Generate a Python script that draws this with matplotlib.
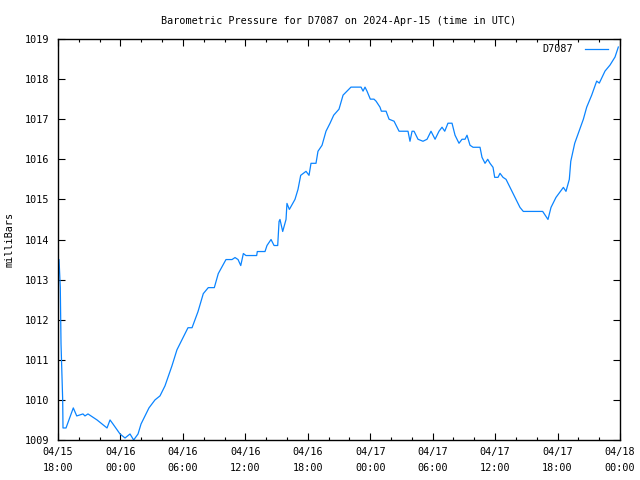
import matplotlib
matplotlib.use("Agg")
import matplotlib.pyplot as plt
from matplotlib.ticker import MultipleLocator, FixedLocator

# hours since 2024-04-15 18:00 UTC
hours = [0.0, 0.1, 0.22, 0.29, 0.45, 0.48, 0.77, 1.47, 1.80, 2.40, 2.59, 2.88,
         3.17, 3.75, 4.71, 5.00, 5.28, 5.96, 6.44, 6.92, 7.27, 7.69, 7.98, 8.74,
         9.32, 9.80, 10.28, 10.95, 11.43, 12.49, 12.88, 13.45, 13.96, 14.44, 15.02,
         15.40, 16.14, 16.72, 17.01, 17.30, 17.56, 17.81, 18.06, 19.09, 19.15,
         19.89, 20.08, 20.47, 20.76, 21.11, 21.24, 21.33, 21.59, 21.91, 22.00,
         22.23, 22.77, 23.06, 23.32, 23.83, 24.12, 24.31, 24.79, 24.98, 25.37,
         25.75, 26.14, 26.49, 27.00, 27.39, 27.77, 28.15, 29.12, 29.31, 29.50,
         29.69, 30.01, 30.36, 30.56, 30.94, 31.07, 31.52, 31.81, 32.29, 32.77,
         33.63, 33.82, 34.02, 34.21, 34.59, 35.07, 35.46, 35.84, 36.23, 36.61,
         36.90, 37.16, 37.47, 37.86, 38.15, 38.53, 38.82, 39.11, 39.30, 39.59,
         39.88, 40.55, 40.74, 41.03, 41.29, 41.51, 41.80, 41.96, 42.28, 42.47,
         42.76, 43.05, 43.72, 44.01, 44.39, 44.71, 45.35, 46.57, 47.08, 47.37,
         47.85, 48.56, 48.81, 49.13, 49.27, 49.65, 50.00, 50.48, 50.80, 51.28,
         51.76, 52.01, 52.56, 53.04, 53.52, 53.84]
pressure = [1013.5, 1013.5, 1012.8, 1011.4, 1010.0, 1009.3, 1009.3, 1009.8, 1009.6, 1009.65, 1009.6, 1009.65,
            1009.6, 1009.5, 1009.3, 1009.5, 1009.4, 1009.15, 1009.05, 1009.15, 1009.0, 1009.15, 1009.4, 1009.8,
            1010.0, 1010.1, 1010.35, 1010.85, 1011.25, 1011.8, 1011.8, 1012.2, 1012.65, 1012.8, 1012.8,
            1013.15, 1013.5, 1013.5, 1013.55, 1013.5, 1013.35, 1013.65, 1013.6, 1013.6, 1013.7,
            1013.7, 1013.85, 1014.0, 1013.85, 1013.85, 1014.45, 1014.5, 1014.2, 1014.5, 1014.9,
            1014.75, 1015.0, 1015.25, 1015.6, 1015.7, 1015.6, 1015.9, 1015.9, 1016.2, 1016.35,
            1016.7, 1016.9, 1017.1, 1017.25, 1017.6, 1017.7, 1017.8, 1017.8, 1017.7, 1017.8,
            1017.7, 1017.5, 1017.5, 1017.45, 1017.3, 1017.2, 1017.2, 1017.0, 1016.95, 1016.7,
            1016.7, 1016.45, 1016.7, 1016.7, 1016.5, 1016.45, 1016.5, 1016.7, 1016.5, 1016.7,
            1016.8, 1016.7, 1016.9, 1016.9, 1016.6, 1016.4, 1016.5, 1016.5, 1016.6, 1016.35,
            1016.3, 1016.3, 1016.05, 1015.9, 1016.0, 1015.9, 1015.8, 1015.55, 1015.55, 1015.65,
            1015.55, 1015.5, 1015.15, 1015.0, 1014.8, 1014.7, 1014.7, 1014.7, 1014.5, 1014.8,
            1015.05, 1015.3, 1015.2, 1015.5, 1015.95, 1016.4, 1016.65, 1017.0, 1017.3, 1017.6,
            1017.95, 1017.9, 1018.2, 1018.35, 1018.55, 1018.8]

tick_labels = ["04/15\n18:00", "04/16\n00:00", "04/16\n06:00", "04/16\n12:00", "04/16\n18:00",
               "04/17\n00:00", "04/17\n06:00", "04/17\n12:00", "04/17\n18:00", "04/18\n00:00"]

plt.rcParams["font.family"] = ["DejaVu Sans Mono"]
plt.rcParams["font.size"] = 7.3

fig = plt.figure(figsize=(6.4, 4.8), dpi=100)
ax = fig.add_axes([58 / 640, 40 / 480, 562 / 640, 401 / 480])

ax.plot(hours, pressure, color="#0a84ff", lw=0.9, label="D7087")

ax.set_xlim(0, 54)
ax.set_ylim(1009, 1019)
ax.xaxis.set_major_locator(FixedLocator(range(0, 55, 6)))
ax.set_xticklabels(tick_labels, linespacing=1.7)
ax.xaxis.set_minor_locator(MultipleLocator(2))
ax.yaxis.set_major_locator(MultipleLocator(1))
ax.tick_params(which="both", direction="in", top=True, right=True, color="black")
ax.tick_params(which="major", length=5, width=0.8)
ax.tick_params(which="minor", length=2.5, width=0.8)
ax.tick_params(axis="x", pad=5)
ax.tick_params(axis="y", pad=6)
for s in ax.spines.values():
    s.set_linewidth(1.0)

ax.set_ylabel("milliBars")
ax.yaxis.set_label_coords(-43 / 562, 0.5)
ax.set_title("Barometric Pressure for D7087 on 2024-Apr-15 (time in UTC)", fontsize=7.3, pad=11)
leg = ax.legend(loc="upper right", frameon=False, markerfirst=False, handlelength=2.3,
                borderaxespad=0.3, handletextpad=1.1,
                bbox_to_anchor=(1 - 5 / 562, 1 + 2 / 401))

fig.savefig("out.png", dpi=100)
